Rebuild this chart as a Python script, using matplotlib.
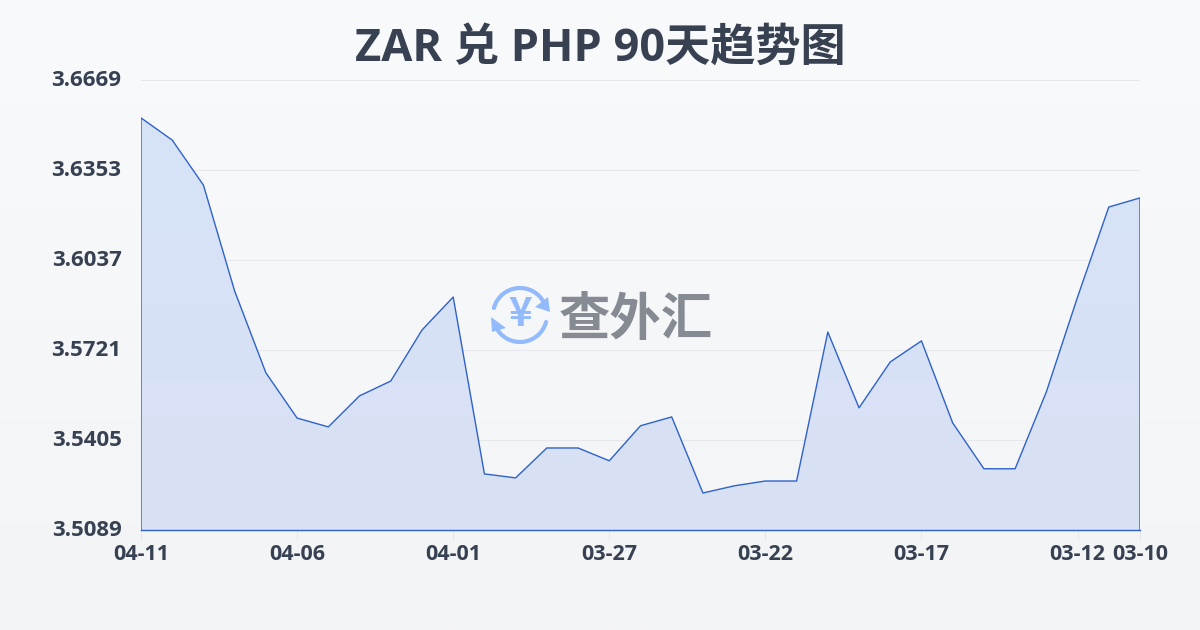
import numpy as np
import matplotlib
matplotlib.use("Agg")
import matplotlib.pyplot as plt
from matplotlib.colors import LinearSegmentedColormap
from matplotlib.patches import Arc, Polygon
from matplotlib.transforms import ScaledTranslation

plt.rcParams['font.family'] = ['Open Sans', 'Noto Sans CJK SC', 'DejaVu Sans']

dates = ["04-11", "04-10", "04-09", "04-08", "04-07", "04-06", "04-05", "04-04", "04-03", "04-02", "04-01",
         "03-31", "03-30", "03-29", "03-28", "03-27", "03-26", "03-25", "03-24", "03-23", "03-22",
         "03-21", "03-20", "03-19", "03-18", "03-17", "03-16", "03-15", "03-14", "03-13", "03-12", "03-11", "03-10"]
rates = [3.6536, 3.6458, 3.6300, 3.5928, 3.5641, 3.5482, 3.5451, 3.5560, 3.5612, 3.5791, 3.5907,
         3.5286, 3.5272, 3.5377, 3.5377, 3.5332, 3.5455, 3.5486, 3.5219, 3.5244, 3.5261,
         3.5261, 3.5784, 3.5518, 3.5679, 3.5753, 3.5465, 3.5304, 3.5304, 3.5574, 3.5907, 3.6223, 3.6255]
y_ticks = [3.5089, 3.5405, 3.5721, 3.6037, 3.6353, 3.6669]
x_ticks = ["04-11", "04-06", "04-01", "03-27", "03-22", "03-17", "03-12", "03-10"]

text_col = "#374151"
line_col = "#2f62c8"

fig = plt.figure(figsize=(12, 6.3), dpi=100)

# background gradient
bg = fig.add_axes([0, 0, 1, 1], zorder=0)
bg.imshow(np.linspace(0, 1, 256).reshape(-1, 1), aspect="auto", extent=[0, 1, 0, 1],
          cmap=LinearSegmentedColormap.from_list("bg", ["#f9fafc", "#f3f4f6"]))
bg.axis("off")

ax = fig.add_axes([141 / 1200, 100 / 630, 999 / 1200, 450 / 630], zorder=1)
ax.patch.set_alpha(0)
x = np.arange(len(dates))
area = ax.fill_between(x, rates, y_ticks[0], color="none", lw=0)
grad = ax.imshow(np.linspace(0, 1, 256).reshape(-1, 1), aspect="auto",
                 extent=[x[0], x[-1], y_ticks[0], y_ticks[-1]], zorder=2,
                 cmap=LinearSegmentedColormap.from_list("fill", ["#d6e4f8", "#d9e0f4"]))
grad.set_clip_path(area.get_paths()[0], transform=ax.transData)
ax.plot(np.r_[x[0], x, x[-1]], np.r_[y_ticks[0], rates, y_ticks[0]], color=line_col, lw=1.0, zorder=3)
ax.set_xlim(0, len(dates) - 1)
ax.set_ylim(y_ticks[0], y_ticks[-1])

ax.set_yticks(y_ticks)
ax.set_yticklabels([f"{v:.4f}" for v in y_ticks], fontsize=16, fontweight="bold", color=text_col)
ax.grid(axis="y", color="#e5e7eb", lw=0.8, zorder=1)
ax.tick_params(axis="y", length=0, pad=14)
# labels sit a little above their gridlines
for lab in ax.get_yticklabels():
    lab.set_transform(lab.get_transform() + ScaledTranslation(0, 2 / 100, fig.dpi_scale_trans))
ax.set_xticks([dates.index(d) for d in x_ticks])
ax.set_xticklabels(x_ticks, fontsize=15.5, fontweight="bold", color=text_col)
ax.tick_params(axis="x", length=7, width=0.8, color="#e5e7eb", pad=3)
for s in ax.spines.values():
    s.set_visible(False)
ax.spines["bottom"].set_visible(True)
ax.spines["bottom"].set_color(line_col)
ax.spines["bottom"].set_linewidth(1.0)

fig.text(0.5, 1 - 49 / 630, "ZAR 兑 PHP 90天趋势图", ha="center", va="center",
         fontsize=32.5, fontweight="bold", color=text_col)

# watermark, drawn in pixel coordinates
wm = fig.add_axes([0, 0, 1, 1], zorder=4)
wm.set_xlim(0, 1200)
wm.set_ylim(0, 630)
wm.axis("off")
logo = "#93bbfb"
cx, cy = 520, 630 - 315
wm.add_patch(Arc((cx, cy), 54, 54, theta1=28, theta2=165, color=logo, lw=3, capstyle="round"))
wm.add_patch(Arc((cx, cy), 54, 54, theta1=208, theta2=345, color=logo, lw=3, capstyle="round"))
wm.add_patch(Polygon([(550, 630 - 312), (548, 630 - 297), (535, 630 - 307)], color=logo, lw=0))
wm.add_patch(Polygon([(491, 630 - 317), (492, 630 - 332), (506, 630 - 328)], color=logo, lw=0))
wm.text(cx, cy, "¥", ha="center", va="center", fontsize=29, fontweight="bold", color=logo,
        family="Noto Sans CJK SC")
wm.text(636, 630 - 319, "查外汇", ha="center", va="center", fontsize=37, fontweight="bold", color="#858a93",
        family="Noto Sans CJK SC")

fig.savefig("out.png", dpi=100)
